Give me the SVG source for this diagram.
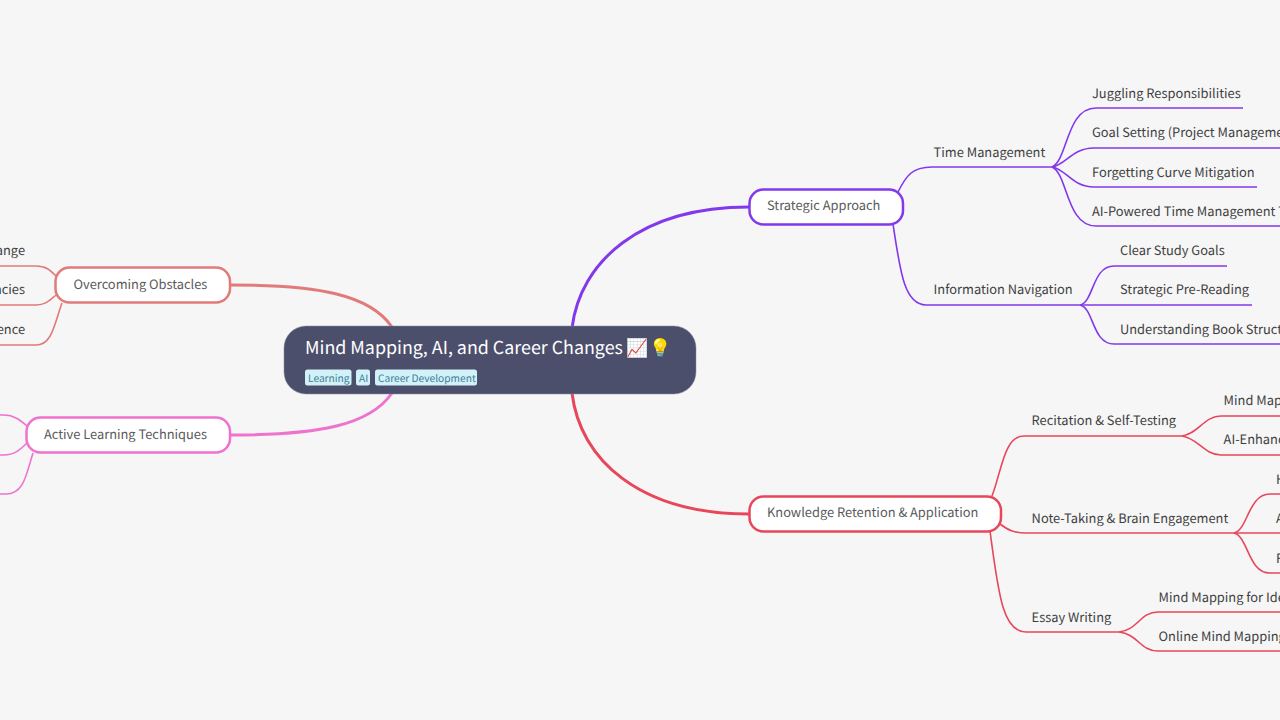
<svg xmlns="http://www.w3.org/2000/svg" width="1280" height="720" viewBox="0 0 1280 720">
<style>
text{font-family:"Noto Sans CJK SC","Noto Sans",sans-serif;text-rendering:geometricPrecision}
.lb{font-size:12.85px;fill:#3f3f3f}
.br{font-size:12.85px;fill:#5a5a5a}
.n{fill:#fff;stroke-width:2.5}
.e{fill:none;stroke-width:1.6}
.b{fill:none;stroke-width:3}
.p{stroke:#8338ec}.r{stroke:#e8465a}.s{stroke:#e27a7a}.k{stroke:#ef72cf}
.tag{fill:#d2f1f8}
.tt{font-size:10.2px;fill:#3d7f96}
</style>
<rect width="1280" height="720" fill="#f6f6f6"/>
<g id="connectors">
<path class="b p" d="M572 328C580 262 640 207 749 207"/>
<path class="b r" d="M572 393C580 460 640 514 749 514"/>
<path class="b s" d="M230 285C320 285 370 295 392 327"/>
<path class="b k" d="M230 435C320 435 370 425 392 393"/>
<path class="e p" d="M898 192C906 176 912 167 932 167H1052"/>
<path class="e p" d="M1052 167C1068 160 1066 108 1096 108H1243"/>
<path class="e p" d="M1052 167C1066 165 1072 148 1094 148H1280"/>
<path class="e p" d="M1052 167C1066 169 1072 187 1094 187H1257"/>
<path class="e p" d="M1052 167C1068 174 1066 226 1096 226H1280"/>
<path class="e p" d="M893 224C900 270 904 305 926 305H1080"/>
<path class="e p" d="M1080 305C1094 302 1092 266 1114 266H1227"/>
<path class="e p" d="M1080 305H1252"/>
<path class="e p" d="M1080 305C1094 308 1092 344 1114 344H1280"/>
<path class="e r" d="M992 496C1002 470 1004 436 1024 436H1182"/>
<path class="e r" d="M1182 436C1198 434 1204 416 1221 416H1280"/>
<path class="e r" d="M1182 436C1198 438 1204 455 1221 455H1280"/>
<path class="e r" d="M1000 524C1008 530 1014 533 1026 533H1234"/>
<path class="e r" d="M1234 533C1248 530 1248 494 1270 494H1280"/>
<path class="e r" d="M1234 533H1280"/>
<path class="e r" d="M1234 533C1248 536 1248 573 1270 573H1280"/>
<path class="e r" d="M990 531C998 590 1002 632 1026 632H1119"/>
<path class="e r" d="M1119 632C1138 630 1140 612 1158 612H1280"/>
<path class="e r" d="M1119 632C1138 634 1140 651 1158 651H1280"/>
<path class="e s" d="M56 276C50 270 46 266 36 266H0"/>
<path class="e s" d="M56 295C50 300 46 305 36 305H0"/>
<path class="e s" d="M62 303C54 325 52 345 36 345H0"/>
<path class="e k" d="M27 426C20 420 14 415 4 415H0"/>
<path class="e k" d="M27 443C20 450 14 455 4 455H0"/>
<path class="e k" d="M33 453C26 475 24 494 6 494H0"/>
</g>
<g id="root">
<rect x="284" y="326" width="412" height="68" rx="22" fill="#4c4f6b" stroke="#8a8ca0" stroke-width="0.5"/>
<text x="305" y="354" font-size="17.85" fill="#fff">Mind Mapping, AI, and Career Changes 📈💡</text>
<rect class="tag" x="305" y="369.500" width="46.500" height="16" rx="2.500"/>
<text class="tt" x="308" y="382">Learning</text>
<rect class="tag" x="356" y="369.500" width="14" height="16" rx="2.500"/>
<text class="tt" x="359" y="382">AI</text>
<rect class="tag" x="375" y="369.500" width="102" height="16" rx="2.500"/>
<text class="tt" x="378" y="382">Career Development</text>
</g>
<g id="n-strategic"><rect class="n p" x="749.500" y="189.500" width="153.500" height="35" rx="14"/><text class="br" x="767" y="210">Strategic Approach</text></g>
<g id="n-knowledge"><rect class="n r" x="749.500" y="496.500" width="251.500" height="35" rx="14"/><text class="br" x="767" y="517">Knowledge Retention &amp; Application</text></g>
<g id="n-obstacles"><rect class="n s" x="55.500" y="267.500" width="174.500" height="35" rx="14"/><text class="br" x="73.500" y="289">Overcoming Obstacles</text></g>
<g id="n-active"><rect class="n k" x="26.500" y="417.500" width="203.500" height="35" rx="14"/><text class="br" x="44" y="439">Active Learning Techniques</text></g>
<g id="n-time"><text class="lb" x="933.600" y="157">Time Management</text></g>
<g id="n-juggling"><text class="lb" x="1092" y="98">Juggling Responsibilities</text></g>
<g id="n-goal"><text class="lb" x="1092" y="137">Goal Setting (Project Management)</text></g>
<g id="n-forget"><text class="lb" x="1092" y="176.500">Forgetting Curve Mitigation</text></g>
<g id="n-aitime"><text class="lb" x="1092" y="216">AI-Powered Time Management T</text></g>
<g id="n-info"><text class="lb" x="933.600" y="294">Information Navigation</text></g>
<g id="n-clear"><text class="lb" x="1120" y="255">Clear Study Goals</text></g>
<g id="n-pre"><text class="lb" x="1120" y="294">Strategic Pre-Reading</text></g>
<g id="n-book"><text class="lb" x="1120" y="333.500">Understanding Book Structure</text></g>
<g id="n-recite"><text class="lb" x="1031.600" y="425">Recitation &amp; Self-Testing</text></g>
<g id="n-map"><text class="lb" x="1223.600" y="405">Mind Mapping</text></g>
<g id="n-enh"><text class="lb" x="1223.600" y="444">AI-Enhanced</text></g>
<g id="n-note"><text class="lb" x="1031.600" y="523">Note-Taking &amp; Brain Engagement</text></g>
<g id="n-h"><text class="lb" x="1276" y="484">H</text></g>
<g id="n-a"><text class="lb" x="1276" y="523">A</text></g>
<g id="n-f"><text class="lb" x="1276" y="563">F</text></g>
<g id="n-essay"><text class="lb" x="1031.600" y="622">Essay Writing</text></g>
<g id="n-idea"><text class="lb" x="1158.600" y="601.500">Mind Mapping for Ideas</text></g>
<g id="n-online"><text class="lb" x="1158.600" y="641">Online Mind Mapping</text></g>
<g id="n-l1"><text class="lb" x="25" y="255" text-anchor="end">ange</text></g>
<g id="n-l2"><text class="lb" x="25" y="294" text-anchor="end">acies</text></g>
<g id="n-l3"><text class="lb" x="25" y="333.500" text-anchor="end">ence</text></g>
</svg>
